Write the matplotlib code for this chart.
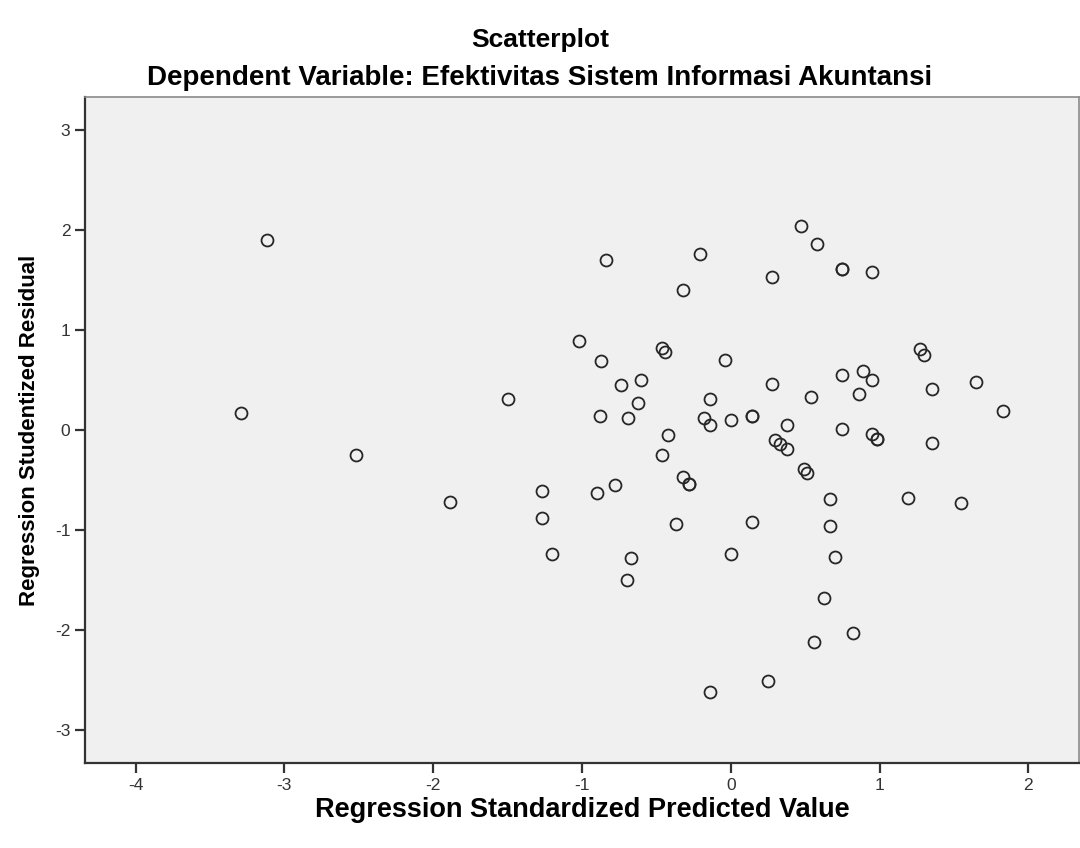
import matplotlib
matplotlib.use("Agg")
import matplotlib.pyplot as plt

plt.rcParams['font.family'] = ['Liberation Sans', 'DejaVu Sans']
plt.rcParams['axes.unicode_minus'] = False

# Regression standardized predicted value (x) and studentized residual (y)
pred = [-3.12, -3.29, -2.52, -1.89, -1.50, -1.02, -0.84, -0.87, -0.88, -0.74,
        -0.60, -0.62, -0.69, -0.78, -0.90, -1.27, -1.27, -1.20, -0.67, -0.70,
        -0.46, -0.44, -0.32, -0.21, -0.42, -0.46, -0.14, -0.18, -0.14, -0.04,
        0.00, -0.32, -0.28, -0.28, -0.37, 0.00, 0.14, 0.14, 0.14, -0.14,
        0.25, 0.28, 0.47, 0.58, 0.28, 0.30, 0.33, 0.38, 0.38, 0.54,
        0.49, 0.51, 0.67, 0.67, 0.70, 0.63, 0.56, 0.75, 0.75, 0.95,
        0.75, 0.75, 0.89, 0.86, 0.95, 0.95, 0.98, 0.98, 0.82, 1.27,
        1.30, 1.35, 1.35, 1.19, 1.55, 1.65, 1.83]
resid = [1.90, 0.17, -0.25, -0.72, 0.31, 0.89, 1.70, 0.69, 0.14, 0.45,
         0.50, 0.27, 0.12, -0.55, -0.63, -0.61, -0.88, -1.24, -1.28, -1.50,
         0.82, 0.78, 1.40, 1.76, -0.05, -0.25, 0.31, 0.12, 0.05, 0.70,
         0.10, -0.47, -0.54, -0.54, -0.94, -1.24, 0.14, 0.14, -0.92, -2.62,
         -2.51, 1.53, 2.04, 1.86, 0.46, -0.10, -0.14, -0.19, 0.05, 0.33,
         -0.39, -0.43, -0.69, -0.96, -1.27, -1.68, -2.12, 1.61, 1.61, 1.58,
         0.55, 0.01, 0.59, 0.36, 0.50, -0.04, -0.09, -0.09, -2.03, 0.81,
         0.75, 0.41, -0.13, -0.68, -0.73, 0.48, 0.19]

xticks = [-4, -3, -2, -1, 0, 1, 2]
yticks = [-3, -2, -1, 0, 1, 2, 3]

fig = plt.figure(figsize=(10.8, 8.48), dpi=100)
ax = fig.add_axes([0.0787, 0.1002, 0.9203, 0.7854])
ax.set_facecolor('#f0f0f0')

ax.plot(pred, resid, linestyle='none', marker='o', ms=8.6,
        mfc='none', mec='#262626', mew=1.3)

ax.set_xlim(-4.34, 2.34)
ax.set_ylim(-3.33, 3.33)
ax.set_xticks(xticks)
ax.set_yticks(yticks)
ax.tick_params(axis='both', length=7.5, width=1.6, color='#333333',
               labelsize=12.5, labelcolor='#333333', pad=3)

for s in ['left', 'bottom']:
    ax.spines[s].set_linewidth(1.6)
    ax.spines[s].set_color('#333333')
for s in ['top', 'right']:
    ax.spines[s].set_linewidth(1.2)
    ax.spines[s].set_color('#8a8a8a')

ax.set_xlabel('Regression Standardized Predicted Value', fontsize=19.5,
              fontweight='bold', labelpad=3)
ax.set_ylabel('Regression Studentized Residual', fontsize=16,
              fontweight='bold', labelpad=11)

fig.text(0.5, 0.953, 'Scatterplot', ha='center', va='center',
         fontsize=19, fontweight='bold')
fig.text(0.5, 0.908, 'Dependent Variable: Efektivitas Sistem Informasi Akuntansi',
         ha='center', va='center', fontsize=20, fontweight='bold')

fig.savefig('out.png', dpi=100)
